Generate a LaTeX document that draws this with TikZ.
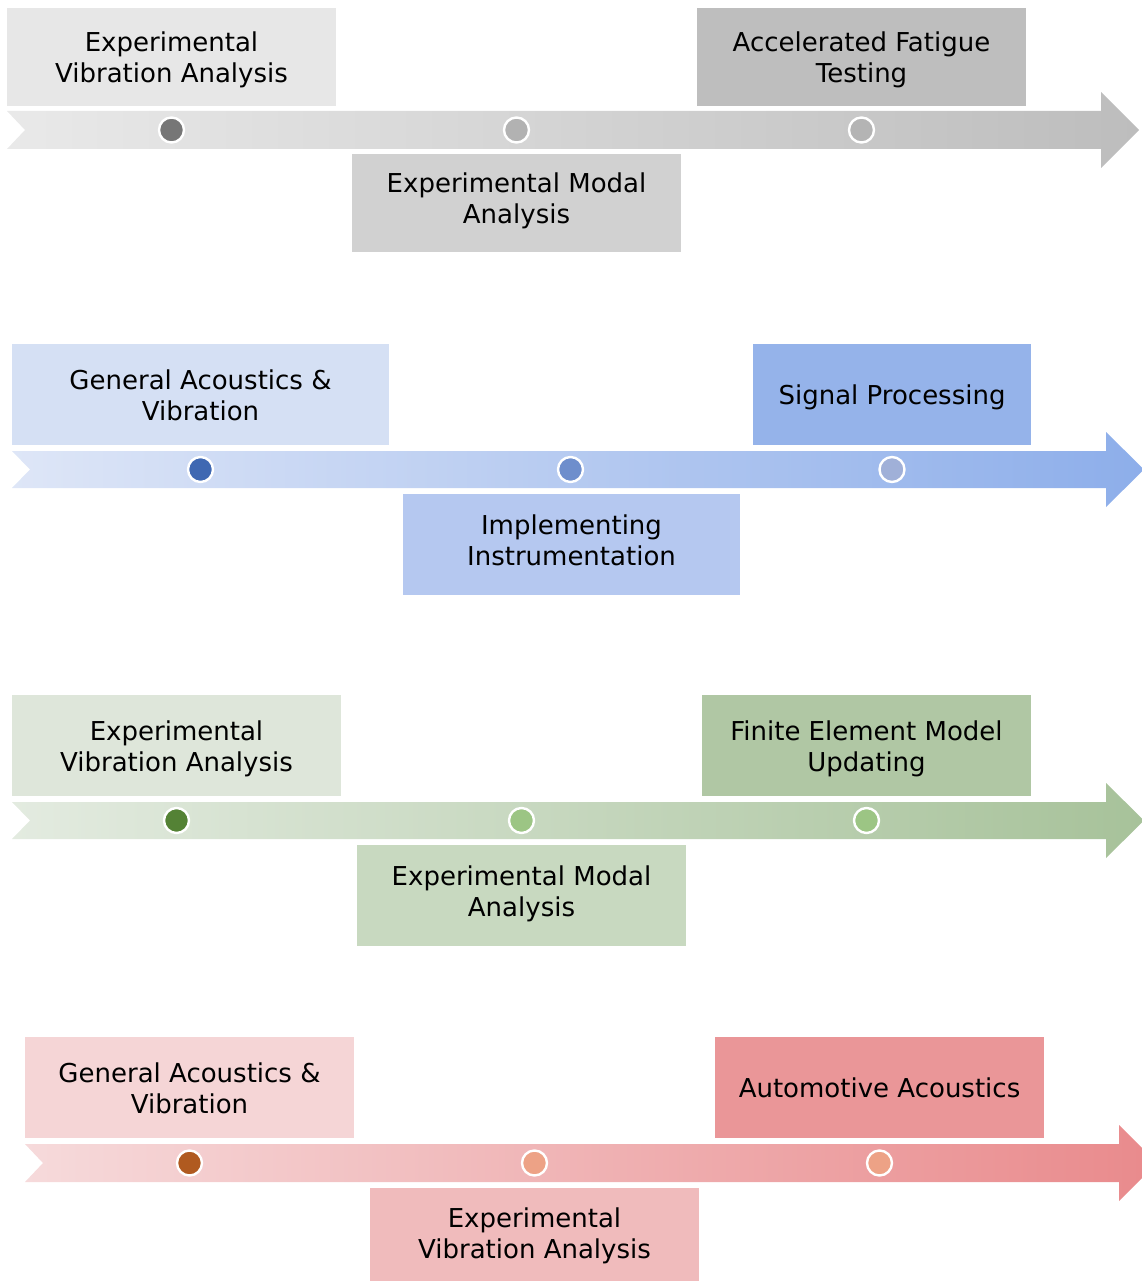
\documentclass[tikz,border=0pt]{standalone}
\usepackage{fontspec}
\setmainfont{DejaVu Sans}
\definecolor{gA}{HTML}{E7E7E7}\definecolor{gB}{HTML}{D1D1D1}\definecolor{gC}{HTML}{BEBEBE}
\definecolor{gArL}{HTML}{E9E9E9}\definecolor{gArR}{HTML}{BDBDBD}
\definecolor{gD1}{HTML}{767676}\definecolor{gD2}{HTML}{B2B2B2}\definecolor{gD3}{HTML}{B4B4B4}
\definecolor{bA}{HTML}{D5E0F4}\definecolor{bB}{HTML}{B5C8F0}\definecolor{bC}{HTML}{95B3EA}
\definecolor{bArL}{HTML}{DEE6F7}\definecolor{bArR}{HTML}{8DAEEA}
\definecolor{bD1}{HTML}{3F68B2}\definecolor{bD2}{HTML}{6E8ECC}\definecolor{bD3}{HTML}{A0B0D8}
\definecolor{vA}{HTML}{DEE6DA}\definecolor{vB}{HTML}{C8D9C0}\definecolor{vC}{HTML}{B0C7A4}
\definecolor{vArL}{HTML}{E3EBE0}\definecolor{vArR}{HTML}{A7C29A}
\definecolor{vD1}{HTML}{548235}\definecolor{vD2}{HTML}{9CC584}\definecolor{vD3}{HTML}{9CC584}
\definecolor{rA}{HTML}{F5D5D6}\definecolor{rB}{HTML}{F0BBBC}\definecolor{rC}{HTML}{EA9698}
\definecolor{rArL}{HTML}{F6DADB}\definecolor{rArR}{HTML}{E98A8C}
\definecolor{rD1}{HTML}{B05A20}\definecolor{rD2}{HTML}{EDA286}\definecolor{rD3}{HTML}{EDA286}
\newcommand{\topstrut}{\rule{0pt}{26pt}}
\tikzset{
  tboxbase/.style={rectangle, inner sep=0pt, align=center, text=black,
    font=\fontsize{26}{31}\selectfont},
  tbox/.style={tboxbase, execute at end node={\rule[-6pt]{0pt}{6pt}}},
  tboxmid/.style={tboxbase, execute at end node={\rule[-10pt]{0pt}{10pt}}},
  tboxlow/.style={tboxbase, execute at end node={\rule[-15pt]{0pt}{15pt}}},
  tdot/.style={circle, draw=white, line width=2.4pt, minimum size=25pt, inner sep=0pt}
}
\begin{document}
\begin{tikzpicture}[x=1pt,y=-1pt]
\useasboundingbox (0,0) rectangle (1141,1281);
% ---------- timeline 1 (gray)
\shade[left color=gArL, right color=gArR] (7,111) -- (1101,111) -- (1101,92) -- (1139,130) -- (1101,168) -- (1101,149) -- (7,149) -- (25,130) -- cycle;
\node[tbox, fill=gA, minimum width=329pt, minimum height=98pt] (g1) at (171.5,57) {\topstrut Experimental\\Vibration Analysis};
\node[tbox, fill=gC, minimum width=329pt, minimum height=98pt] (g3) at (861.5,57) {\topstrut Accelerated Fatigue\\Testing};
\node[tboxlow, fill=gB, minimum width=329pt, minimum height=98pt] (g2) at (516.5,203) {\topstrut Experimental Modal\\Analysis};
\node[tdot, fill=gD1] (gd1) at (171.5,130) {};
\node[tdot, fill=gD2] (gd2) at (516.5,130) {};
\node[tdot, fill=gD3] (gd3) at (861.5,130) {};
% ---------- timeline 2 (blue)
\shade[left color=bArL, right color=bArR] (12,451) -- (1106,451) -- (1106,432) -- (1144,469.5) -- (1106,507) -- (1106,488) -- (12,488) -- (30,469.5) -- cycle;
\node[tbox, fill=bA, minimum width=377pt, minimum height=101pt] (b1) at (200.5,394.5) {\topstrut General Acoustics \&\\Vibration};
\node[tbox, fill=bC, minimum width=278pt, minimum height=101pt] (b3) at (892,394.5) {\topstrut Signal Processing};
\node[tboxlow, fill=bB, minimum width=337pt, minimum height=101pt] (b2) at (571.5,544.5) {\topstrut Implementing\\Instrumentation};
\node[tdot, fill=bD1] (bd1) at (200.5,469.5) {};
\node[tdot, fill=bD2] (bd2) at (570.5,469.5) {};
\node[tdot, fill=bD3] (bd3) at (892,469.5) {};
% ---------- timeline 3 (green)
\shade[left color=vArL, right color=vArR] (12,802) -- (1106,802) -- (1106,783) -- (1144,820.5) -- (1106,858) -- (1106,839) -- (12,839) -- (30,820.5) -- cycle;
\node[tbox, fill=vA, minimum width=329pt, minimum height=101pt] (v1) at (176.5,745.5) {\topstrut Experimental\\Vibration Analysis};
\node[tbox, fill=vC, minimum width=329pt, minimum height=101pt] (v3) at (866.5,745.5) {\topstrut Finite Element Model\\Updating};
\node[tboxlow, fill=vB, minimum width=329pt, minimum height=101pt] (v2) at (521.5,895.5) {\topstrut Experimental Modal\\Analysis};
\node[tdot, fill=vD1] (vd1) at (176.5,820.5) {};
\node[tdot, fill=vD2] (vd2) at (521.5,820.5) {};
\node[tdot, fill=vD3] (vd3) at (866.5,820.5) {};
% ---------- timeline 4 (red)
\shade[left color=rArL, right color=rArR] (25,1144) -- (1119,1144) -- (1119,1125) -- (1157,1163) -- (1119,1201) -- (1119,1182) -- (25,1182) -- (43,1163) -- cycle;
\node[tbox, fill=rA, minimum width=329pt, minimum height=101pt] (r1) at (189.5,1087.5) {\topstrut General Acoustics \&\\Vibration};
\node[tbox, fill=rC, minimum width=329pt, minimum height=101pt] (r3) at (879.5,1087.5) {\topstrut Automotive Acoustics};
\node[tboxmid, fill=rB, minimum width=329pt, minimum height=94pt] (r2) at (534.5,1235) {\topstrut Experimental\\Vibration Analysis};
\node[tdot, fill=rD1] (rd1) at (189.5,1163) {};
\node[tdot, fill=rD2] (rd2) at (534.5,1163) {};
\node[tdot, fill=rD3] (rd3) at (879.5,1163) {};
\end{tikzpicture}
\end{document}
